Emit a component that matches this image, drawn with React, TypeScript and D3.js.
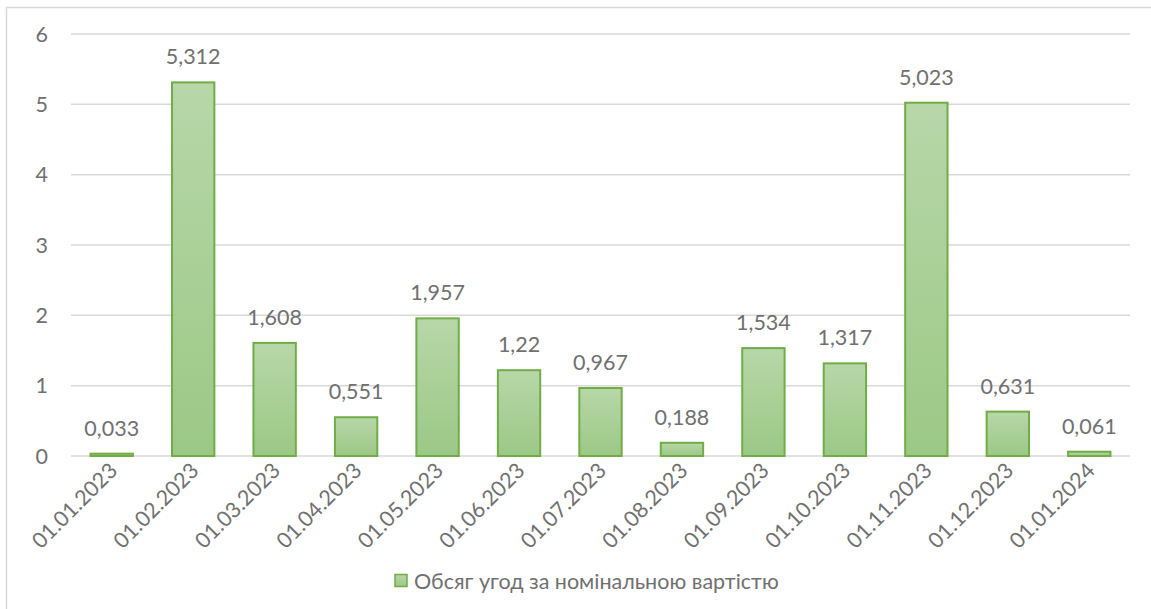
import React from 'react';
import * as d3 from 'd3';

const dates = [
  '01.01.2023', '01.02.2023', '01.03.2023', '01.04.2023', '01.05.2023',
  '01.06.2023', '01.07.2023', '01.08.2023', '01.09.2023', '01.10.2023',
  '01.11.2023', '01.12.2023', '01.01.2024',
];
const values = [0.033, 5.312, 1.608, 0.551, 1.957, 1.22, 0.967, 0.188, 1.534, 1.317, 5.023, 0.631, 0.061];
const yTicks = [0, 1, 2, 3, 4, 5, 6];
const seriesName = 'Обсяг угод за номінальною вартістю';

const W = 1151;
const H = 609;
const FONT = "Lato, 'Open Sans', 'Noto Sans', sans-serif";
const TEXT = '#707070';
const FS = 21.5;

const App: React.FC = () => {
  const x = d3.scaleBand<string>()
    .domain(dates)
    .range([71, 1130])
    .paddingInner(0.48)
    .paddingOuter(0.24);
  const y = d3.scaleLinear().domain([0, 6]).range([456, 34]);

  const fmt = (v: number) => String(v).replace('.', ',');

  return (
    <svg width={W} height={H} style={{ position: 'absolute', left: 0, top: 0, fontFamily: FONT }}>
      <defs>
        <linearGradient id="barFill" x1="0" y1="0" x2="0" y2="1">
          <stop offset="0%" stopColor="#b7d7a8" />
          <stop offset="100%" stopColor="#9cc886" />
        </linearGradient>
      </defs>
      <rect x={0} y={0} width={W} height={H} fill="#fff" />
      <rect x={6.5} y={7.5} width={W + 10} height={H + 10} fill="none" stroke="#d9d9d9" strokeWidth={1.5} />

      {/* gridlines */}
      {yTicks.map(t => (
        <line key={t} x1={71} x2={1130} y1={y(t)} y2={y(t)} stroke="#d9d9d9" strokeWidth={1.5} />
      ))}
      {yTicks.map(t => (
        <text key={'l' + t} x={48} y={y(t)} dy="0.35em" textAnchor="end" fontSize={FS} fill={TEXT}>{t}</text>
      ))}

      {/* bars */}
      {dates.map((d, i) => (
        <g key={d}>
          <rect
            x={x(d)!}
            y={y(values[i])}
            width={x.bandwidth()}
            height={y(0) - y(values[i])}
            fill="url(#barFill)"
            stroke="#70ad47"
            strokeWidth={2}
          />
          <text
            x={x(d)! + x.bandwidth() / 2}
            y={y(values[i]) - 18}
            textAnchor="middle"
            fontSize={FS}
            fill={TEXT}
          >{fmt(values[i])}</text>
        </g>
      ))}

      {/* x labels */}
      {dates.map(d => {
        const cx = x(d)! + x.bandwidth() / 2 + 7;
        const cy = 472;
        return (
          <text key={'x' + d} x={cx} y={cy} textAnchor="end" fontSize={FS} fill={TEXT}
            transform={`rotate(-45 ${cx} ${cy})`}>{d}</text>
        );
      })}

      {/* legend */}
      <rect x={395} y={574.5} width={12} height={12} fill="url(#barFill)" stroke="#70ad47" strokeWidth={1.5} />
      <text x={414} y={581} dy="0.35em" fontSize={FS} fill={TEXT}>{seriesName}</text>
    </svg>
  );
};

export default App;
